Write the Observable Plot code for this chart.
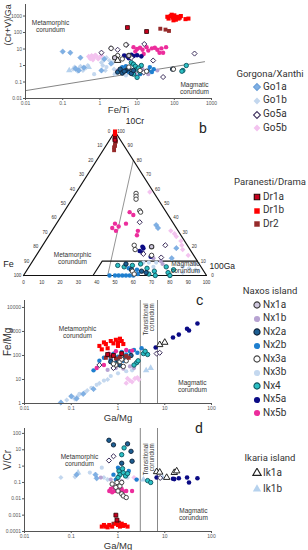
<!DOCTYPE html>
<html><head><meta charset="utf-8">
<script src="https://cdn.jsdelivr.net/npm/d3@7"></script>
<script src="https://cdn.jsdelivr.net/npm/@observablehq/plot@0.6"></script>
<style>
body{margin:0;background:#fff;}
#wrap{position:relative;width:308px;height:550px;overflow:hidden;font-family:Roboto,"Liberation Sans",Arial,sans-serif;color:#333;}
.t{position:absolute;white-space:nowrap;line-height:1;}
</style></head><body><div id="wrap"></div>
<script>
// ---------- tick labels ----------
const xTicksA = [0.01, 0.1, 1, 10, 100, 1000];
const yTicksA = [0.01, 0.1, 1, 10, 100, 1000];
const xTicksCD = [0.01, 0.1, 1, 10, 100];
const yTicksC = [1, 10, 100, 1000, 10000];
const yTicksD = [0.0001, 0.001, 0.01, 0.1, 1, 10, 100];
const ternTicks = [0, 10, 20, 30, 40, 50, 60, 70, 80, 90, 100];

// ---------- legend groups ----------
const groups = [
  {title: "Gorgona/Xanthi", items: ["Go1a", "Go1b", "Go5a", "Go5b"]},
  {title: "Paranesti/Drama", items: ["Dr1a", "Dr1b", "Dr2"]},
  {title: "Naxos island", items: ["Nx1a", "Nx1b", "Nx2a", "Nx2b", "Nx3a", "Nx3b", "Nx4", "Nx5a", "Nx5b"]},
  {title: "Ikaria island", items: ["Ik1a", "Ik1b"]}
];

// ---------- panel a: Fe/Ti vs (Cr+V)/Ga ----------
const feTi_crvga = {
  Go1a: [[0.1,7],[0.16,6],[0.3,3],[0.22,0.65],[0.37,0.75],[2,1.3],[1.3,2.5],[1.1,0.5],[0.27,0.5]],
  Go1b: [[0.19,0.6],[0.21,0.8],[0.25,0.45],[0.3,0.9],[0.35,0.5],[0.42,0.7],[0.47,1],[1.1,1.5],[1.3,2.2],[1.5,3],[1.8,2],[2.2,1.5],[1.4,0.5],[2.4,0.6],[1.2,1],[0.28,0.7]],
  Go5a: [[5.2,18],[15.6,20],[2,11],[1.1,6],[3,9],[27,2],[350,5.3],[50,0.2],[15,0.38],[7,3]],
  Go5b: [[0.5,3.5],[0.55,2.6],[0.6,4],[0.7,3],[0.8,3.8],[0.9,2.5],[1.0,3.2],[1.1,4],[0.65,2.2],[0.75,4.3]],
  Dr1a: [[5.5,200],[18,115]],
  Dr1b: [[65,900],[70,700],[80,1000],[90,800],[100,1100],[110,600],[120,900],[130,700],[95,550],[150,1000],[200,650],[240,700],[85,1200],[105,850],[140,800]],
  Dr2: [[42,170],[58,150],[72,125]],
  Nx1a: [[2.5,3],[6,4]],
  Nx1b: [[9,0.3],[20,0.3],[35,0.5],[3,0.5],[14,0.6]],
  Nx2a: [[3,0.4],[3.5,0.6],[4,0.35],[5,0.5],[6,0.65],[7,0.33],[8,0.5],[4.5,0.45],[90,0.6]],
  Nx2b: [[20,0.5],[22,0.8],[25,0.4],[28,0.6],[4,0.8],[5,0.9],[6,0.4],[12,0.3]],
  Nx3a: [[2,11],[5,18],[3,4],[95,0.6],[6,0.8],[12,0.5],[4,2.5],[18,0.45]],
  Nx3b: [[1.5,0.8],[2.5,0.3],[5,0.25],[0.7,0.3]],
  Nx4: [[7,1.5],[8,1.2],[9,0.9],[10,0.6],[12,0.4],[13,1],[10,0.19],[170,0.5],[210,1],[160,0.45],[8,0.3],[11,0.7]],
  Nx5a: [[4.5,4],[5.5,3.5],[7,4.5],[8,3.8],[10,4.2],[13,3.6],[6,2.8]],
  Nx5b: [[8,13],[10,10],[12,12],[14,9],[18,13],[20,8],[25,11],[30,12],[35,9],[45,11],[15,5],[50,6],[9,7],[60,13],[40,6]],
  Ik1a: [[3,2]],
  Ik1b: [[0.15,0.5],[0.5,0.8]]
};
const boundaryA = [[0.01, 0.03], [650, 1.7]];

// ---------- panel b: ternary 10Cr - Fe - 100Ga, values [Cr%, Ga%] ----------
const ternary = {
  Go1a: [[35,55],[33,57],[12,75],[19,74]],
  Go1b: [[2,86],[5,88],[8,90],[4,92],[3,94],[6,84]],
  Go5a: [[37,45],[21,67],[12.5,69],[15,58]],
  Go5b: [[31,65],[27,70],[24,74],[21,76],[29,68],[18,78],[14,83],[58,40]],
  Dr1a: [[95,2.5],[94,3]],
  Dr1b: [[98,1],[99,0.5],[97,1.5],[100,0]],
  Dr2: [[93,4],[91,4.5],[89,5],[87,6],[90,5]],
  Nx1a: [[20,60]],
  Nx1b: [[10,70],[8,72],[12,65]],
  Nx2a: [[8,52],[4,57],[2,66],[3,63]],
  Nx2b: [[0,47],[0,50],[0,52],[0,54],[0,56],[0,58],[0,60],[1,62],[5,55],[4,60]],
  Nx3a: [[57,33],[55,34],[53,35],[45,41],[44,42],[21,50],[14,63],[18,52],[3,58],[1,60]],
  Nx3b: [[9,61],[9,64],[9,68],[6,68]],
  Nx4: [[7,48],[6,52],[7,56],[5,65],[3,70],[0,72],[6,75],[2,78],[4,80],[1,68],[8,60],[0,80]],
  Nx5a: [[19,56],[17,55],[16,57],[20,55],[13,63]],
  Nx5b: [[44,36],[42,39],[36,32],[34,35],[33,32],[31,35],[36,38],[31,47],[28,48]]
};
const ternGreyLine = [[80,20],[0,46]];
const ternMagField = [[0,38],[10,38],[10,90]];

// ---------- panel c: Ga/Mg vs Fe/Mg ----------
const gaMg_feMg = {
  Go1a: [[0.06,1.1],[0.1,2],[0.13,1.6],[0.18,2.5],[0.3,4]],
  Go1b: [[0.08,1.4],[0.12,1.5],[0.14,2.1],[0.22,3.5],[0.4,7],[0.6,10]],
  Go5a: [[6.7,120],[7.8,130],[0.4,40],[0.8,30]],
  Go5b: [[1.5,7],[1.8,9],[2.0,8],[2.3,11],[2.6,12],[2.8,10],[1.6,11]],
  Dr1a: [[0.6,110],[0.8,100],[1.2,120]],
  Dr1b: [[0.4,250],[0.5,350],[0.55,300],[0.7,400],[0.9,450],[1.0,350],[1.1,500],[1.2,400],[0.6,200],[0.8,320],[1.3,300],[0.45,180],[1.0,250]],
  Dr2: [[0.55,80],[0.7,90],[0.9,75],[1.1,85],[1.5,95],[1.7,80]],
  Nx1b: [[0.6,25],[0.9,30],[1.3,28],[1.8,35],[2.2,30]],
  Nx2a: [[0.7,55],[1.0,65],[1.4,80],[1.9,100],[1.1,40]],
  Nx2b: [[0.4,60],[0.5,80],[0.6,100],[0.7,70],[0.8,120],[1.0,90],[1.2,140],[1.5,110],[1.8,150],[2.2,170],[2.6,130],[0.3,24],[3.2,200],[1.3,60],[0.9,50]],
  Nx3a: [[0.9,40],[1.1,55],[1.3,35],[1.5,60],[0.8,45],[1.2,70]],
  Nx3b: [[0.11,1.8],[0.15,2.5],[0.2,3],[0.27,4.5],[0.35,6],[0.5,9],[0.7,14],[1.0,18],[1.5,22],[2,24]],
  Nx4: [[2.5,50],[4.3,110],[2.7,60],[3.5,120],[3.8,150],[1.0,60],[2.2,40]],
  Nx5a: [[6.4,215],[15,560],[20,740],[30,1300],[33,1100],[50,2150]],
  Nx5b: [[0.64,120],[0.35,30],[2.0,160],[0.5,40],[0.9,150],[1.5,170]],
  Ik1a: [[7.8,280],[10,350]],
  Ik1b: [[4,24],[5,30]]
};

// ---------- panel d: Ga/Mg vs V/Cr ----------
const gaMg_vCr = {
  Go1a: [[0.35,0.18],[0.33,0.3],[0.13,0.3]],
  Go1b: [[0.06,0.2],[0.12,0.22],[0.5,0.2],[0.6,0.15]],
  Go5a: [[0.64,2.2],[0.8,4],[8,0.19]],
  Go5b: [[2.2,0.2],[2.5,0.15]],
  Dr1a: [[0.9,0.001],[0.95,0.0005]],
  Dr1b: [[0.45,0.0002],[0.5,0.00025],[0.55,0.0002],[0.65,0.00025],[0.75,0.0002],[0.9,0.0003],[1.0,0.00025],[1.1,0.0002],[1.2,0.0003],[1.4,0.00025],[1.6,0.0002],[0.6,0.00018],[1.3,0.00022]],
  Dr2: [[0.8,0.0003],[1.05,0.00035]],
  Nx1b: [[0.43,0.2],[0.7,0.15],[1.2,0.12]],
  Nx2a: [[0.64,38],[0.8,20],[1.6,23],[1.9,8],[2.0,2],[1.2,1.5]],
  Nx2b: [[0.8,0.3],[1.0,0.8],[2.5,0.15],[1.7,0.5],[0.9,0.15]],
  Nx3a: [[0.75,0.08],[0.9,0.05],[1.0,0.03],[1.1,0.06],[1.2,0.02],[1.3,0.015],[1.5,0.012],[0.95,0.1],[1.2,0.1]],
  Nx3b: [[0.25,0.4],[0.45,0.8],[1.6,0.2]],
  Nx4: [[1.35,13],[1.2,5],[1.05,0.5],[1.1,0.3],[1.3,0.4],[1.45,0.25],[1.6,0.35],[4.3,0.13],[5,0.1],[1.25,0.7],[1.0,0.2]],
  Nx5a: [[6.7,0.2],[15,0.17],[20,0.18],[30,0.2],[33,0.1],[50,0.18],[16,0.16]],
  Nx5b: [[0.65,0.03],[0.7,0.04],[0.85,0.03],[1.0,0.035],[1.1,0.03],[1.3,0.028],[1.5,0.03],[2.0,0.03],[0.8,0.05],[1.2,0.04],[0.75,0.025]],
  Ik1a: [[6.7,0.45],[7.8,0.42],[16,0.4],[18,0.5],[11,0.2]],
  Ik1b: [[0.14,0.4],[3.5,0.15],[9,0.2]]
};
const transitionalBounds = [3, 7];

// ---------- styles ----------
const styles = {
  Go1a: {symbol: "diamond2", fill: "#7fb0e4", stroke: "#6a9fd8", sw: 0.5, r: 2.4},
  Go1b: {symbol: "diamond2", fill: "#c3d7ee", stroke: "none", sw: 0, r: 2.3},
  Go5a: {symbol: "diamond2", fill: "#ffffff", stroke: "#3d2f5c", sw: 1, r: 2.3},
  Go5b: {symbol: "diamond2", fill: "#f3c3ef", stroke: "none", sw: 0, r: 2.4},
  Dr1a: {symbol: "square", fill: "#c8001e", stroke: "#2a0000", sw: 0.8, r: 2.2},
  Dr1b: {symbol: "square", fill: "#ff0000", stroke: "none", sw: 0, r: 2.3},
  Dr2: {symbol: "square", fill: "#962a2a", stroke: "none", sw: 0, r: 2.2},
  Nx1a: {symbol: "circle", fill: "#cfc8de", stroke: "#3a3a3a", sw: 1.1, r: 2.2},
  Nx1b: {symbol: "circle", fill: "#b7a3d2", stroke: "none", sw: 0, r: 2.1},
  Nx2a: {symbol: "circle", fill: "#1d5f93", stroke: "#0b2038", sw: 0.9, r: 2.2},
  Nx2b: {symbol: "circle", fill: "#1e7fcf", stroke: "none", sw: 0, r: 2.2},
  Nx3a: {symbol: "circle", fill: "#ffffff", stroke: "#444444", sw: 1, r: 2.2},
  Nx3b: {symbol: "circle", fill: "#c4d8ef", stroke: "none", sw: 0, r: 2.1},
  Nx4: {symbol: "circle", fill: "#2bc0c4", stroke: "#0d5560", sw: 0.9, r: 2.2},
  Nx5a: {symbol: "circle", fill: "#0b0b85", stroke: "none", sw: 0, r: 2.3},
  Nx5b: {symbol: "circle", fill: "#ec2d9c", stroke: "none", sw: 0, r: 2.2},
  Ik1a: {symbol: "triangle", fill: "#ffffff", stroke: "#222222", sw: 1, r: 2.4},
  Ik1b: {symbol: "triangle", fill: "#b6d2ee", stroke: "none", sw: 0, r: 2.4}
};
const drawOrder = ["Go1b","Nx3b","Go5b","Ik1b","Go1a","Nx1b","Nx2b","Nx4","Nx2a","Nx5b","Nx5a","Go5a","Nx3a","Nx1a","Ik1a","Dr2","Dr1b","Dr1a"];

// ---------- helpers ----------
const W = document.getElementById("wrap");
const FONT = "'Liberation Sans', Arial, sans-serif";
const AX = "#555";
function place(el, left, top) {
  el.style.position = "absolute"; el.style.left = left + "px"; el.style.top = top + "px";
  W.appendChild(el);
}
function dots(data, xf, yf) {
  return drawOrder.filter(k => data[k]).map(k => {
    const s = styles[k];
    return Plot.dot(data[k], {x: xf, y: yf, symbol: s.symbol, r: s.r, fill: s.fill, stroke: s.stroke, strokeWidth: s.sw});
  });
}
const fmt = d => String(d);
const svgStyle = `background:transparent;overflow:visible;font-family:${FONT};`;
function note(txt, x, y, extra = {}) {
  return Plot.text([txt], {x: () => x, y: () => y, text: d => d, fontSize: 6.5, fill: "#333", lineHeight: 1.1, ...extra});
}
function logAxes(xt, yt, xl, yl, xlDy, ylDy, ylSize) {
  return [
    Plot.axisX({ticks: xt, tickFormat: fmt, tickSize: 2, tickPadding: 1, fontSize: 5, label: null, color: AX}),
    Plot.axisY({ticks: yt, tickFormat: fmt, tickSize: 2, tickPadding: 1.5, fontSize: 5, label: null, color: AX}),
    Plot.text([xl], {frameAnchor: "bottom", lineAnchor: "middle", dy: xlDy, fontSize: 9.5, fill: "#333"}),
    Plot.text([yl], {frameAnchor: "left", rotate: -90, dx: -17, dy: ylDy, fontSize: ylSize, fill: "#333"})
  ];
}

// ---------- panel a ----------
const pa = Plot.plot({
  width: 220, height: 115, marginLeft: 25, marginRight: 9, marginTop: 4, marginBottom: 17,
  style: svgStyle,
  x: {type: "log", domain: [0.01, 1000]},
  y: {type: "log", domain: [0.01, 5000]},
  marks: [
    Plot.line(boundaryA, {x: d => d[0], y: d => d[1], stroke: "#777", strokeWidth: 0.9}),
    ...dots(feTi_crvga, d => d[0], d => d[1]),
    Plot.ruleX([0.01], {stroke: AX}),
    Plot.ruleY([0.01], {stroke: AX}),
    ...logAxes(xTicksA, yTicksA, "Fe/Ti", "(Cr+V)/Ga", 11, -6, 9),
    note("Metamorphic\ncorundum", 0.047, 230),
    note("Magmatic\ncorundum", 350, 0.04)
  ]
});
place(pa, 0, 0);

// ---------- panel b (ternary) ----------
const tx = d => d[1] + d[0] / 2;   // Ga + Cr/2
const ty = d => d[0];              // Cr
const corners = [[0,0],[0,100],[100,0],[0,0]];
const leftPts = ternTicks.map(f => ({v: f, p: [100 - f, 0]}));    // Fe axis
const rightPts = ternTicks.map(c => ({v: c, p: [c, 100 - c]}));   // Cr axis
const basePts = ternTicks.map(g => ({v: g, p: [0, g]}));          // Ga axis
const tickTxt = (arr, dx, dy) => Plot.text(arr, {x: d => tx(d.p), y: d => ty(d.p), text: d => String(d.v), dx, dy, fontSize: 4.6, fill: "#333"});
const pb = Plot.plot({
  width: 240, height: 190, marginLeft: 23, marginRight: 34, marginTop: 26, marginBottom: 20,
  style: svgStyle,
  x: {domain: [0, 100], axis: null},
  y: {domain: [0, 100], axis: null},
  marks: [
    Plot.line(ternGreyLine, {x: tx, y: ty, stroke: "#888", strokeWidth: 0.9}),
    Plot.line(ternMagField, {x: tx, y: ty, stroke: "#111", strokeWidth: 1.1}),
    Plot.line(corners, {x: tx, y: ty, stroke: "#111", strokeWidth: 1.2}),
    ...dots(ternary, tx, ty),
    tickTxt(leftPts, -6, 0),
    tickTxt(rightPts, 6, 0),
    tickTxt(basePts, 0, 7),
    Plot.text(["10Cr"], {x: () => 50, y: () => 100, dx: 20, dy: -10, fontSize: 8.5, fill: "#222"}),
    Plot.text(["Fe"], {x: () => 0, y: () => 0, dx: -15, dy: -11, fontSize: 9, fill: "#222"}),
    Plot.text(["100Ga"], {x: () => 100, y: () => 0, dx: 3, dy: -9, textAnchor: "start", fontSize: 8.5, fill: "#222"}),
    note("Metamorphic\ncorundum", 26.8, 11.8),
    note("Magmatic\ncorundum", 88.5, 5.5)
  ]
});
place(pb, 0, 105);

// ---------- panel c ----------
const transMarks = (yTop) => [
  Plot.ruleX(transitionalBounds, {stroke: "#888", strokeWidth: 1}),
  Plot.text(["Transitional\ncorundum"], {x: () => 4.6, y: () => yTop, rotate: -90, textAnchor: "end", lineAnchor: "middle", fontSize: 6.3, fill: "#333", lineHeight: 1.05})
];
const pc = Plot.plot({
  width: 220, height: 125, marginLeft: 24, marginRight: 9, marginTop: 5, marginBottom: 17,
  style: svgStyle,
  x: {type: "log", domain: [0.01, 100]},
  y: {type: "log", domain: [1, 19500]},
  marks: [
    ...transMarks(15000),
    ...dots(gaMg_feMg, d => d[0], d => d[1]),
    Plot.ruleX([0.01], {stroke: AX}),
    Plot.ruleY([1], {stroke: AX}),
    ...logAxes(xTicksCD, yTicksC, "Ga/Mg", "Fe/Mg", 14, 4, 10),
    note("Metamorphic\ncorundum", 0.136, 900),
    note("Magmatic\ncorundum", 39, 5.1)
  ]
});
place(pc, 0, 295);

// ---------- panel d ----------
const pd = Plot.plot({
  width: 220, height: 125, marginLeft: 24, marginRight: 9, marginTop: 3, marginBottom: 19,
  style: svgStyle,
  x: {type: "log", domain: [0.01, 100]},
  y: {type: "log", domain: [0.0001, 200]},
  marks: [
    ...transMarks(25),
    ...dots(gaMg_vCr, d => d[0], d => d[1]),
    Plot.ruleX([0.01], {stroke: AX}),
    Plot.ruleY([0.0001], {stroke: AX}),
    ...logAxes(xTicksCD, yTicksD, "Ga/Mg", "V/Cr", 14, -10, 10),
    note("Metamorphic\ncorundum", 0.15, 2.3),
    note("Magmatic\ncorundum", 41, 0.0011)
  ]
});
place(pd, 0, 425);

// ---------- panel letters ----------
[["b", 199, 121], ["c", 196, 293], ["d", 195, 421]].forEach(([t, x, y]) => {
  const el = document.createElement("div"); el.className = "t"; el.textContent = t;
  el.style.fontSize = "14px"; el.style.color = "#222";
  place(el, x, y);
});

// ---------- legend ----------
const symType = {diamond2: d3.symbolDiamond2, square: d3.symbolSquare, circle: d3.symbolCircle, triangle: d3.symbolTriangle};
const titleY = [74, 182, 291, 458];
const firstY = [87, 197, 305, 473];
const stepY = [13.8, 13.5, 13.5, 16];
groups.forEach((g, gi) => {
  const t = document.createElement("div"); t.className = "t"; t.textContent = g.title;
  t.style.fontSize = "9.5px"; t.style.width = "80px"; t.style.textAlign = "center";
  place(t, 230, titleY[gi] - 5);
  g.items.forEach((k, i) => {
    const s = styles[k]; const cy = firstY[gi] + i * stepY[gi];
    const svg = d3.create("svg").attr("width", 10).attr("height", 10);
    svg.append("path").attr("transform", "translate(5,5)")
      .attr("d", d3.symbol(symType[s.symbol], Math.PI * 9.5)())
      .attr("fill", s.fill).attr("stroke", s.stroke).attr("stroke-width", s.sw === 0 ? 0 : Math.max(1.1, s.sw));
    place(svg.node(), 252, cy - 5);
    const lt = document.createElement("div"); lt.className = "t"; lt.textContent = k;
    lt.style.fontSize = "10px";
    place(lt, 263, cy - 5.5);
  });
});
</script></body></html>
